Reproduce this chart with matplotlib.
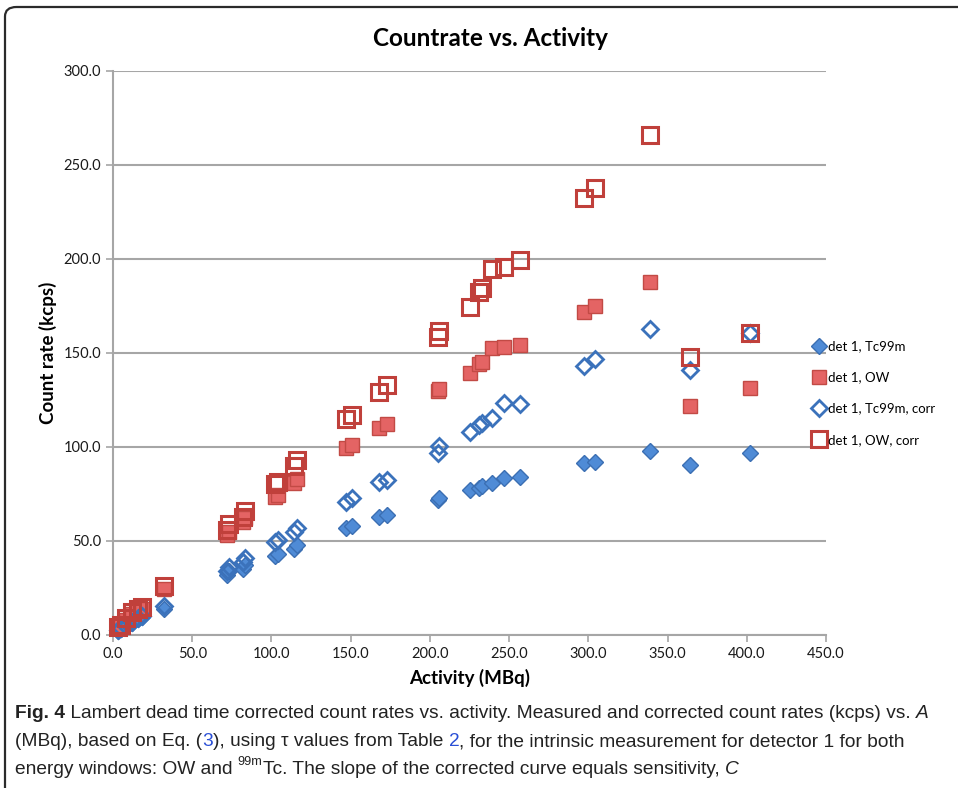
import matplotlib
matplotlib.use("Agg")
import matplotlib.pyplot as plt
from matplotlib.patches import FancyBboxPatch
from matplotlib.ticker import FormatStrFormatter, MultipleLocator

# activity (MBq) for every measurement
activity = [3, 5, 8, 12, 16, 18, 32, 72, 73, 82, 83, 102, 104, 114, 116,
            147, 151, 168, 173, 205, 206, 225, 231, 233, 239, 247, 257,
            297, 304, 339, 364, 402]
# count rates (kcps)
tc99m = [2, 3, 4.5, 6.5, 8.5, 9.5, 14, 32, 34, 35, 37, 42, 43, 46, 48,
         57, 58, 63, 64, 72, 73, 77, 78, 79, 81, 83.5, 84,
         91.5, 92, 98, 90.5, 97]
ow = [3.5, 5, 8, 11, 13, 14, 24.5, 53, 55, 60, 62, 73.5, 74.5, 81, 83,
      99.5, 101, 110, 112, 130, 131, 139.5, 144, 145, 152.5, 153, 154,
      172, 175, 188, 122, 131.5]
tc99m_corr = [2.5, 3.5, 5, 7, 9, 10, 15.5, 34, 36, 39, 41, 49.5, 50.5, 55, 57,
              71, 73, 81.5, 82.5, 97, 100.5, 108, 111.5, 113, 115.5, 123.5, 123,
              143, 147, 163, 141, 160.5]
ow_corr = [4, 5.5, 9, 12, 14, 15, 26, 56, 59, 63, 66, 80.5, 81.5, 90, 93,
           115, 117, 129.5, 133, 158.5, 161.5, 174.5, 182.5, 184.5, 194.5, 196, 199.5,
           232.5, 238, 266, 148, 160.5]

labels = ["det 1, Tc99m", "det 1, OW", "det 1, Tc99m, corr", "det 1, OW, corr"]

W, H = 958, 788
fig = plt.figure(figsize=(W / 100, H / 100), dpi=100)
font = ["Lato", "DejaVu Sans"]

# outer frame with rounded corner
frame = FancyBboxPatch((5 / W, -0.2), 1.2, 1.2 - 7 / H,
                       boxstyle="round,pad=0,rounding_size=0.012",
                       transform=fig.transFigure, fill=False,
                       ec="#2b2b2b", lw=1.6, clip_on=False)
fig.patches.append(frame)

ax = fig.add_axes([113 / W, 1 - 635 / H, (826 - 113) / W, (635 - 71) / H])

ax.plot(activity, tc99m, ls="none", marker="D", ms=8, mfc="#4f8bd6",
        mec="#3b6fb3", mew=1.0, label=labels[0], clip_on=False, zorder=3)
ax.plot(activity, ow, ls="none", marker="s", ms=9.5, mfc="#e46464",
        mec="#c24a45", mew=1.0, label=labels[1], clip_on=False, zorder=3)
ax.plot(activity, tc99m_corr, ls="none", marker="D", ms=8, mfc="none",
        mec="#3b72bb", mew=2.0, label=labels[2], clip_on=False, zorder=4)
ax.plot(activity, ow_corr, ls="none", marker="s", ms=11, mfc="none",
        mec="#c0403b", mew=2.2, label=labels[3], clip_on=False, zorder=4)

ax.set_xlim(0, 450)
ax.set_ylim(0, 300)
ax.xaxis.set_major_locator(MultipleLocator(50))
ax.yaxis.set_major_locator(MultipleLocator(50))
ax.xaxis.set_major_formatter(FormatStrFormatter("%.1f"))
ax.yaxis.set_major_formatter(FormatStrFormatter("%.1f"))
ax.grid(axis="y", color="#a6a6a6", lw=1.5)
ax.set_axisbelow(True)
for s in ["top", "right"]:
    ax.spines[s].set_visible(False)
for s in ["left", "bottom"]:
    ax.spines[s].set_color("#a6a6a6")
    ax.spines[s].set_linewidth(1.5)
ax.tick_params(colors="#a6a6a6", width=1.2, length=5, labelsize=10.5,
               labelcolor="#1a1a1a")
for lab in ax.get_xticklabels() + ax.get_yticklabels():
    lab.set_family(font)

ax.set_xlabel("Activity (MBq)", fontsize=13.5, fontweight="bold", family=font,
              labelpad=6)
ax.set_ylabel("Count rate (kcps)", fontsize=13.5, fontweight="bold", family=font,
              labelpad=5)
fig.text(490 / W, 1 - 38 / H, "Countrate vs. Activity", ha="center", va="center",
         fontsize=17.5, fontweight="bold", family=font)

fig.legend(loc="center left", bbox_to_anchor=(806 / W, 1 - 393 / H), frameon=False,
           prop={"family": font, "size": 9.5}, handletextpad=0.1,
           labelspacing=1.45, handlelength=1.2, borderaxespad=0)

# caption, written as runs of styled text
cap_font = ["Liberation Sans", "DejaVu Sans"]
lines = [
    [("Fig. 4", {"fontweight": "bold"}),
     (" Lambert dead time corrected count rates vs. activity. Measured and corrected count rates (kcps) vs. ", {}),
     ("A", {"fontstyle": "italic"})],
    [("(MBq), based on Eq. (", {}), ("3", {"color": "#2a4fd6"}),
     ("), using \u03c4 values from Table ", {}), ("2", {"color": "#2a4fd6"}),
     (", for the intrinsic measurement for detector 1 for both", {})],
    [("energy windows: OW and ", {}), ("99m", {"sup": True}),
     ("Tc. The slope of the corrected curve equals sensitivity, ", {}),
     ("C", {"fontstyle": "italic"})],
]
line_y = [712, 740, 767]
fig.canvas.draw()
renderer = fig.canvas.get_renderer()


def write_line(runs, yy, base):
    x = 15.0
    made = []
    for txt, st in runs:
        st = dict(st)
        size = base
        y = yy
        if st.pop("sup", False):
            size = base * 0.66
            y = yy - base * 0.5
        t = fig.text(x / W, 1 - y / H, txt, ha="left", va="center_baseline",
                     fontsize=size, family=cap_font,
                     color=st.pop("color", "#222222"), **st)
        x += t.get_window_extent(renderer).width
        made.append(t)
    return x, made


# fit the first (longest) line inside the frame
end, trial = write_line(lines[0], line_y[0], 14.0)
for t in trial:
    t.remove()
cap_size = 14.0 * (938 - 15) / (end - 15)
for runs, yy in zip(lines, line_y):
    write_line(runs, yy, cap_size)

fig.savefig("out.png", dpi=100)
